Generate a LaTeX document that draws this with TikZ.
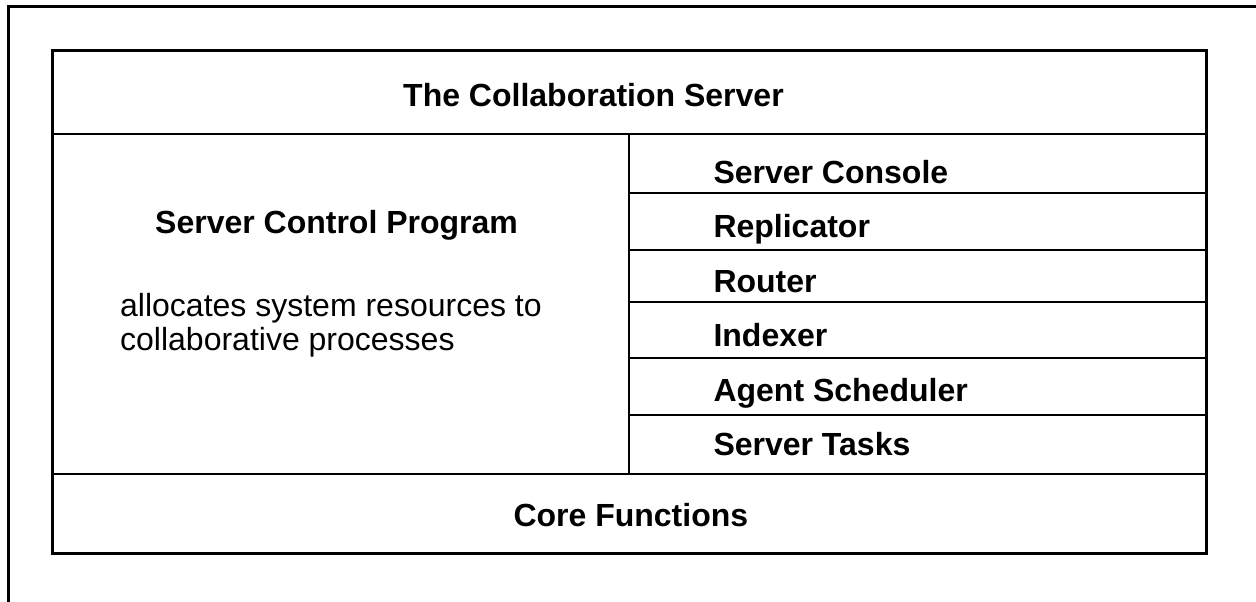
\documentclass[tikz,border=0pt]{standalone}
\usepackage{fontspec}
\setmainfont{Liberation Sans}
\begin{document}
\begin{tikzpicture}[x=1pt,y=-1pt,
  frame/.style={draw=black,line width=3pt},
  divider/.style={draw=black,line width=2pt},
  label/.style={anchor=base west,inner sep=0pt,font=\fontsize{32}{36}\selectfont\bfseries},
  plain/.style={anchor=base west,inner sep=0pt,font=\fontsize{32}{36}\selectfont}]
\useasboundingbox (0,0) rectangle (1256,602);
\clip (0,0) rectangle (1256,602);
% outer frame (partly outside the visible area)
\draw[frame] (8,7) rectangle (1300,660);
% inner box
\coordinate (tl) at (52.5,51);
\coordinate (br) at (1206,553);
\draw[frame] (tl) rectangle (br);
% horizontal lines
\draw[divider] (52.5,134.3) -- (1206,134.3);
\draw[divider] (52.5,473.5) -- (1206,473.5);
\draw[divider] (628.5,134.3) -- (628.5,473.5);
\foreach \yy in {193.2,249.5,302.2,358.3,415.2}
  \draw[divider] (628.5,\yy) -- (1206,\yy);
% texts
\node[label] (title) at (403,106.7) {The Collaboration Server};
\node[label] (scp) at (155,233) {Server Control Program};
\node[plain] (alloc1) at (120,316) {allocates system resources to};
\node[plain] (alloc2) at (120,350) {collaborative processes};
\node[label] (console) at (713.3,183.3) {Server Console};
\node[label] (repl) at (713.3,237.5) {Replicator};
\node[label] (router) at (713.3,292.5) {Router};
\node[label] (indexer) at (713.3,346.7) {Indexer};
\node[label] (agent) at (713.3,401.5) {Agent Scheduler};
\node[label] (tasks) at (713.3,455.3) {Server Tasks};
\node[label] (core) at (513.3,526) {Core Functions};
\end{tikzpicture}
\end{document}
